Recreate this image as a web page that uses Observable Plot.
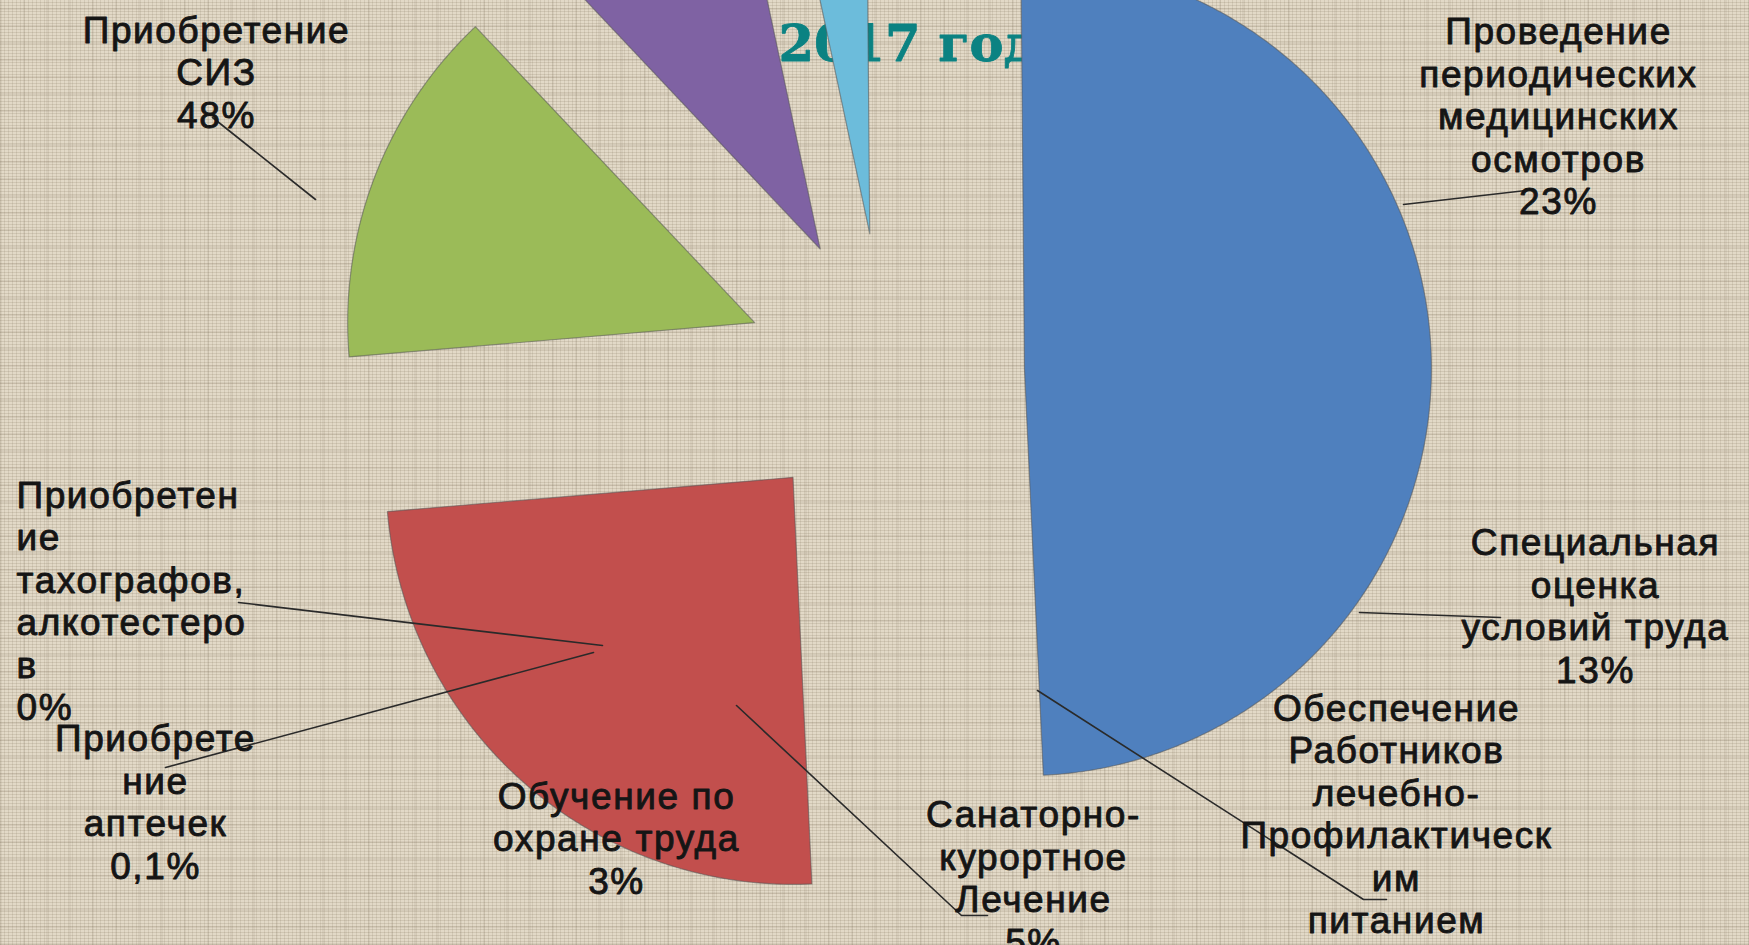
<!DOCTYPE html>
<html>
<head>
<meta charset="utf-8">
<script src="https://cdn.jsdelivr.net/npm/d3@7"></script>
<script src="https://cdn.jsdelivr.net/npm/@observablehq/plot@0.6"></script>
<style>
  html, body { margin: 0; padding: 0; overflow: hidden; }
  body {
    width: 1749px; height: 945px;
    background-color: #e2d9c7;
    background-image:
      repeating-linear-gradient(0deg, rgba(105,90,65,0.15) 0px, rgba(105,90,65,0.15) 1px, transparent 1px, transparent 3px),
      repeating-linear-gradient(90deg, rgba(105,90,65,0.13) 0px, rgba(105,90,65,0.13) 1px, transparent 1px, transparent 4px),
      repeating-linear-gradient(0deg, rgba(90,75,55,0.09) 0px, rgba(90,75,55,0.09) 2px, transparent 2px, transparent 17px),
      repeating-linear-gradient(90deg, rgba(90,75,55,0.08) 0px, rgba(90,75,55,0.08) 2px, transparent 2px, transparent 23px);
  }
  #chart svg { display: block; }
  #chart g[font-family*="Liberation"] text { letter-spacing: 1.6px; }
</style>
</head>
<body>
<div id="chart"></div>
<script>
// ---- data ----
const title = "2017 год";
const sliceNames = [
  "Приобретение СИЗ",
  "Проведение периодических медицинских осмотров",
  "Специальная оценка условий труда",
  "Обеспечение работников лечебно-профилактическим питанием",
  "Обучение по охране труда"
];
const sliceShares = [49.4, 24.4, 14.3, 8.7, 3.2];   // drawn slice sizes, %
const labelTexts = [
  "Приобретение\nСИЗ\n48%",
  "Проведение\nпериодических\nмедицинских\nосмотров\n23%",
  "Специальная\nоценка\nусловий труда\n13%",
  "Обеспечение\nРаботников\nлечебно-\nПрофилактическ\nим\nпитанием",
  "Санаторно-\nкурортное\nЛечение\n5%",
  "Обучение по\nохране труда\n3%",
  "Приобрете\nние\nаптечек\n0,1%",
  "Приобретен\nие\nтахографов,\nалкотестеро\nв\n0%"
];

// ---- layout & style (not data) ----
const W = 1749, H = 945;
const sliceColors = ["#4f80be", "#c24f4d", "#9bbb58", "#7f62a3", "#6cbcdb"];
const pie = {cx: 884.5, cy: 372, r: 407, explode: 139.5, startDeg: -0.5};
const labelLayout = [
  {x: 216,  y: 71,    anchor: "middle"},
  {x: 1558, y: 115,   anchor: "middle"},
  {x: 1595, y: 605,   anchor: "middle"},
  {x: 1396, y: 813,   anchor: "middle"},
  {x: 1033, y: 877,   anchor: "middle"},
  {x: 616,  y: 837,   anchor: "middle"},
  {x: 155,  y: 801,   anchor: "middle"},
  {x: 16,   y: 600,   anchor: "start"}
];
const leaderLayout = [
  [[212,117],[315,199]],
  [[1403,204],[1526,190]],
  [[1359,612],[1500,617]],
  [[1037,690],[1363,899],[1386,899]],
  [[736,705],[961,915],[987,915]],
  [[238,602],[602,645]],
  [[165,767],[593,652]]
];

// ---- build slice polygons from the shares ----
const total = d3.sum(sliceShares);
const slicePts = [];
let acc = pie.startDeg;
sliceShares.forEach((v, i) => {
  const a0 = acc, a1 = acc + v / total * 360;
  acc = a1;
  const mid = (a0 + a1) / 2 * Math.PI / 180;
  const ox = pie.cx + pie.explode * Math.sin(mid);
  const oy = pie.cy - pie.explode * Math.cos(mid);
  const color = sliceColors[i];
  slicePts.push({slice: sliceNames[i], x: ox, y: oy, color});
  const n = Math.max(4, Math.ceil((a1 - a0) * 2));
  for (let k = 0; k <= n; k++) {
    const a = (a0 + (a1 - a0) * k / n) * Math.PI / 180;
    slicePts.push({slice: sliceNames[i], x: ox + pie.r * Math.sin(a), y: oy - pie.r * Math.cos(a), color});
  }
});

const leaderPts = leaderLayout.flatMap((pts, i) => pts.map(([x, y]) => ({id: i, x, y})));
const labels = labelTexts.map((t, i) => ({text: t, ...labelLayout[i]}));

const labelFont = {fontFamily: "'Liberation Sans', Arial, sans-serif", fontSize: 37, lineHeight: 1.15};

const chart = Plot.plot({
  width: W, height: H,
  margin: 0,
  x: {domain: [0, W], range: [0, W], axis: null},
  y: {domain: [0, H], range: [0, H], axis: null},
  color: {type: "identity"},
  style: {background: "transparent", overflow: "hidden"},
  marks: [
    Plot.text([title], {
      frameAnchor: "top-left", dx: 778, dy: 60, lineAnchor: "bottom", textAnchor: "start",
      text: d => d, fill: "#0b8282", stroke: "#0b8282", strokeWidth: 0.8,
      fontFamily: "'DejaVu Serif', serif", fontWeight: "bold", fontSize: 51
    }),
    Plot.line(slicePts, {
      x: "x", y: "y", z: "slice", fill: "color", curve: "linear-closed",
      stroke: "#555", strokeOpacity: 0.55, strokeWidth: 1.2
    }),
    Plot.line(leaderPts, {x: "x", y: "y", z: "id", stroke: "#2a2a2a", strokeWidth: 1.6, curve: "linear"}),
    Plot.text(labels.filter(d => d.anchor === "middle"), {
      x: "x", y: "y", text: "text", textAnchor: "middle", lineAnchor: "middle",
      fill: "#151515", stroke: "#151515", strokeWidth: 0.9, ...labelFont
    }),
    Plot.text(labels.filter(d => d.anchor === "start"), {
      x: "x", y: "y", text: "text", textAnchor: "start", lineAnchor: "middle",
      fill: "#151515", stroke: "#151515", strokeWidth: 0.9, ...labelFont
    })
  ]
});
document.getElementById("chart").appendChild(chart);
</script>
</body>
</html>
